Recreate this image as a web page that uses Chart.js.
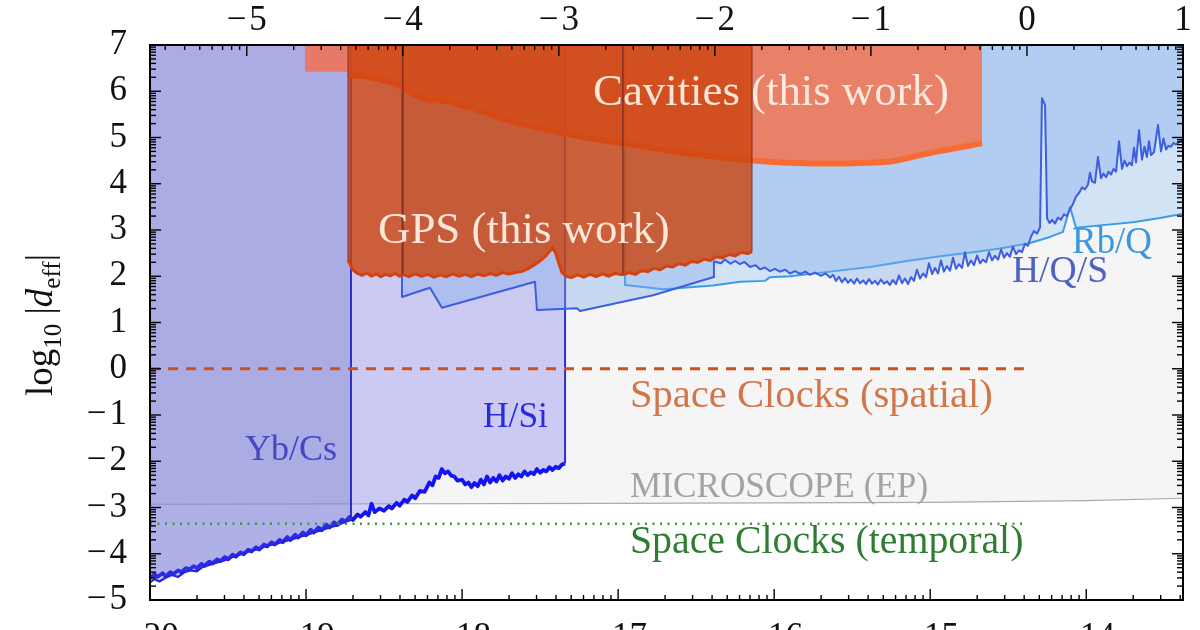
<!DOCTYPE html>
<html>
<head>
<meta charset="utf-8">
<script src="https://cdn.jsdelivr.net/npm/chart.js@4.4.1/dist/chart.umd.min.js"></script>
<style>
    html, body { margin: 0; padding: 0; background: #fff; overflow: hidden; }
    #wrap { width: 1200px; height: 660px; }
</style>
</head>
<body>
<div id="wrap"><canvas id="chart"></canvas></div>
<script>
// bottom axis: log10 of the mass, top axis: log10 of the frequency
const massMin = -20, massMax = -13.38;
const freqMin = -5.62, freqMax = 1.0;
const massTicks = [-20, -19, -18, -17, -16, -15, -14];
const freqTicks = [-5, -4, -3, -2, -1, 0, 1];
const dTicks = [-5, -4, -3, -2, -1, 0, 1, 2, 3, 4, 5, 6, 7];

// [log10 mass, log10 |d_eff|]
const microscope = [[-20, -2.93], [-17, -2.91], [-15, -2.89], [-14, -2.85], [-13.38, -2.8]];

const hsiCurve = [
    [-20.00, -4.52], [-19.97, -4.44], [-19.95, -4.50], [-19.92, -4.42], [-19.90, -4.49], [-19.87, -4.40],
    [-19.85, -4.44], [-19.82, -4.36], [-19.80, -4.40], [-19.77, -4.31], [-19.75, -4.34], [-19.72, -4.27],
    [-19.70, -4.31], [-19.67, -4.22], [-19.65, -4.26], [-19.62, -4.17], [-19.60, -4.21], [-19.57, -4.12],
    [-19.55, -4.16], [-19.52, -4.07], [-19.50, -4.12], [-19.47, -4.02], [-19.45, -4.06], [-19.42, -3.97],
    [-19.40, -4.01], [-19.37, -3.91], [-19.35, -3.95], [-19.32, -3.86], [-19.30, -3.91], [-19.27, -3.80],
    [-19.25, -3.84], [-19.22, -3.75], [-19.20, -3.80], [-19.17, -3.70], [-19.15, -3.75], [-19.12, -3.64],
    [-19.10, -3.70], [-19.07, -3.59], [-19.05, -3.65], [-19.02, -3.54], [-19.00, -3.60], [-18.97, -3.48],
    [-18.95, -3.54], [-18.92, -3.43], [-18.90, -3.49], [-18.87, -3.37], [-18.85, -3.43], [-18.82, -3.32],
    [-18.80, -3.38], [-18.77, -3.26], [-18.75, -3.31], [-18.72, -3.20], [-18.70, -3.27], [-18.67, -3.15],
    [-18.65, -3.20], [-18.62, -3.10], [-18.60, -3.17], [-18.58, -2.92], [-18.56, -3.10], [-18.53, -3.02],
    [-18.50, -3.07], [-18.47, -2.97], [-18.45, -3.02], [-18.42, -2.90], [-18.40, -2.96], [-18.37, -2.83],
    [-18.35, -2.88], [-18.32, -2.74], [-18.30, -2.80], [-18.27, -2.64], [-18.24, -2.66], [-18.21, -2.46],
    [-18.19, -2.52], [-18.17, -2.33], [-18.15, -2.36], [-18.13, -2.17], [-18.11, -2.26], [-18.09, -2.22],
    [-18.07, -2.31], [-18.05, -2.33], [-18.03, -2.42], [-18.00, -2.40], [-17.98, -2.50], [-17.96, -2.46],
    [-17.94, -2.56], [-17.92, -2.47], [-17.90, -2.54], [-17.88, -2.40], [-17.86, -2.50], [-17.84, -2.33],
    [-17.82, -2.46], [-17.80, -2.36], [-17.78, -2.44], [-17.76, -2.30], [-17.74, -2.42], [-17.72, -2.33],
    [-17.70, -2.38], [-17.68, -2.26], [-17.66, -2.36], [-17.64, -2.28], [-17.62, -2.33], [-17.60, -2.22],
    [-17.58, -2.30], [-17.56, -2.24], [-17.54, -2.28], [-17.52, -2.17], [-17.50, -2.25], [-17.48, -2.19],
    [-17.46, -2.22], [-17.44, -2.13], [-17.42, -2.19], [-17.40, -2.12], [-17.38, -2.15], [-17.36, -2.07],
    [-17.34, -2.05], [-17.34, 7]
];

const ybcsCurve = [
    [-20.00, -4.62], [-19.97, -4.55], [-19.94, -4.60], [-19.90, -4.52], [-19.86, -4.46], [-19.82, -4.50],
    [-19.78, -4.40], [-19.74, -4.36], [-19.70, -4.38], [-19.66, -4.28], [-19.62, -4.24], [-19.58, -4.20],
    [-19.54, -4.16], [-19.50, -4.12], [-19.45, -4.04], [-19.40, -4.00], [-19.35, -3.93], [-19.30, -3.90],
    [-19.25, -3.82], [-19.20, -3.80], [-19.15, -3.74], [-19.10, -3.70], [-19.05, -3.64], [-19.00, -3.60],
    [-18.95, -3.54], [-18.90, -3.49], [-18.85, -3.43], [-18.80, -3.39], [-18.75, -3.31], [-18.712, -3.27],
    [-18.712, 7]
];

const rbqCurve = [
    [-16.956, 7], [-16.956, 1.81], [-16.796, 1.75], [-16.712, 1.72], [-16.539, 1.76], [-16.392, 1.80],
    [-16.219, 1.88], [-16.059, 1.90], [-16.027, 1.98], [-15.898, 2.00], [-15.642, 2.10], [-15.386, 2.20],
    [-15.149, 2.33], [-14.937, 2.43], [-14.726, 2.52], [-14.553, 2.60], [-14.360, 2.72], [-14.232, 2.85],
    [-14.149, 2.96], [-14.104, 3.50], [-14.066, 3.05], [-13.912, 3.10], [-13.700, 3.17], [-13.527, 3.26],
    [-13.380, 3.35]
];

const hqsCurve = [
    [-18.385, 7], [-18.385, 1.55], [-18.206, 1.75], [-18.129, 1.32], [-17.533, 1.88], [-17.520, 1.27],
    [-17.264, 1.31], [-17.244, 1.25], [-16.776, 1.59], [-16.392, 1.98], [-16.386, 2.32], [-16.340, 2.28],
    [-16.315, 2.36], [-16.280, 2.27], [-16.250, 2.33], [-16.219, 2.26], [-16.190, 2.31], [-16.155, 2.20],
    [-16.120, 2.24], [-16.091, 2.15], [-16.060, 2.19], [-16.027, 2.11], [-15.995, 2.16], [-15.963, 2.10],
    [-15.930, 2.14], [-15.898, 2.06], [-15.866, 2.11], [-15.834, 2.05], [-15.800, 2.10], [-15.770, 2.03],
    [-15.738, 2.08], [-15.700, 2.01], [-15.670, 2.06], [-15.642, 1.97], [-15.622, 2.03], [-15.604, 1.90],
    [-15.585, 1.99], [-15.565, 1.87], [-15.546, 1.96], [-15.527, 1.86], [-15.508, 1.93], [-15.488, 1.84],
    [-15.470, 1.95], [-15.450, 1.85], [-15.430, 1.91], [-15.411, 1.83], [-15.392, 1.94], [-15.373, 1.84],
    [-15.354, 1.90], [-15.335, 1.82], [-15.316, 1.93], [-15.296, 1.84], [-15.277, 1.89], [-15.258, 1.81],
    [-15.240, 1.92], [-15.219, 1.83], [-15.200, 2.02], [-15.181, 1.85], [-15.162, 1.95], [-15.142, 1.83],
    [-15.123, 1.98], [-15.104, 1.90], [-15.085, 2.14], [-15.065, 1.95], [-15.046, 2.06], [-15.027, 1.98],
    [-15.008, 2.28], [-14.988, 2.05], [-14.969, 2.18], [-14.950, 2.06], [-14.931, 2.34], [-14.912, 2.10],
    [-14.893, 2.22], [-14.873, 2.12], [-14.854, 2.40], [-14.835, 2.16], [-14.816, 2.26], [-14.796, 2.18],
    [-14.777, 2.52], [-14.758, 2.22], [-14.739, 2.34], [-14.719, 2.24], [-14.700, 2.45], [-14.681, 2.28],
    [-14.662, 2.36], [-14.642, 2.30], [-14.623, 2.52], [-14.604, 2.34], [-14.585, 2.44], [-14.565, 2.36],
    [-14.546, 2.58], [-14.527, 2.40], [-14.508, 2.50], [-14.489, 2.42], [-14.470, 2.64], [-14.450, 2.48],
    [-14.431, 2.56], [-14.412, 2.52], [-14.393, 2.70], [-14.373, 2.66], [-14.354, 2.86], [-14.335, 2.98],
    [-14.315, 2.92], [-14.296, 3.06], [-14.284, 5.85], [-14.264, 5.70], [-14.251, 3.25], [-14.235, 3.15],
    [-14.219, 3.22], [-14.200, 3.14], [-14.181, 3.27], [-14.162, 3.22], [-14.143, 3.34], [-14.124, 3.30],
    [-14.104, 3.45], [-14.085, 3.56], [-14.066, 3.72], [-14.046, 3.80], [-14.027, 3.92], [-14.008, 3.88],
    [-13.989, 3.98], [-13.976, 4.24], [-13.963, 4.05], [-13.944, 4.02], [-13.925, 4.58], [-13.906, 4.12],
    [-13.890, 4.22], [-13.873, 4.14], [-13.857, 4.26], [-13.841, 4.20], [-13.825, 4.32], [-13.809, 4.26],
    [-13.790, 4.92], [-13.771, 4.32], [-13.755, 4.50], [-13.739, 4.38], [-13.723, 4.46], [-13.707, 4.40],
    [-13.694, 4.78], [-13.681, 4.46], [-13.662, 5.16], [-13.643, 4.52], [-13.627, 4.80], [-13.611, 4.58],
    [-13.598, 4.92], [-13.585, 4.62], [-13.566, 4.68], [-13.540, 5.27], [-13.521, 4.70], [-13.505, 4.98],
    [-13.489, 4.74], [-13.473, 4.82], [-13.457, 4.80], [-13.441, 4.88], [-13.425, 4.85], [-13.400, 4.92],
    [-13.380, 4.95]
];

const cavities = [
    [-19.007, 7], [-19.007, 6.42], [-18.731, 6.42], [-18.731, 6.36], [-18.68, 6.33], [-18.63, 6.34],
    [-18.59, 6.30], [-18.54, 6.27], [-18.49, 6.22], [-18.44, 6.18], [-18.40, 6.12], [-18.37, 6.06],
    [-18.33, 5.98], [-18.29, 5.90], [-18.25, 5.84], [-18.21, 5.80], [-18.17, 5.82], [-18.13, 5.78],
    [-18.09, 5.80], [-18.05, 5.75], [-18.01, 5.70], [-17.97, 5.67], [-17.93, 5.64], [-17.89, 5.58],
    [-17.85, 5.55], [-17.81, 5.50], [-17.77, 5.45], [-17.73, 5.40], [-17.69, 5.36], [-17.65, 5.32],
    [-17.61, 5.28], [-17.57, 5.26], [-17.53, 5.22], [-17.49, 5.20], [-17.45, 5.16], [-17.41, 5.15],
    [-17.37, 5.10], [-17.33, 5.09], [-17.29, 5.05], [-17.25, 5.03], [-17.21, 5.00], [-17.17, 4.98],
    [-17.12, 4.95], [-17.07, 4.93], [-17.02, 4.90], [-16.97, 4.87], [-16.90, 4.84], [-16.83, 4.80],
    [-16.76, 4.76], [-16.69, 4.73], [-16.62, 4.69], [-16.55, 4.66], [-16.48, 4.63], [-16.41, 4.60],
    [-16.34, 4.57], [-16.27, 4.55], [-16.20, 4.52], [-16.13, 4.50], [-16.05, 4.48], [-15.95, 4.46],
    [-15.85, 4.45], [-15.75, 4.44], [-15.65, 4.44], [-15.55, 4.44], [-15.45, 4.45], [-15.35, 4.46],
    [-15.25, 4.48], [-15.15, 4.55], [-15.05, 4.63], [-14.95, 4.70], [-14.85, 4.76], [-14.75, 4.82],
    [-14.668, 4.88], [-14.668, 7]
];

const gpsLow = [
    [-18.731, 7], [-18.731, 2.35], [-18.70, 2.14], [-18.67, 2.06], [-18.64, 2.02], [-18.61, 2.07],
    [-18.58, 2.00], [-18.55, 2.05], [-18.52, 1.99], [-18.49, 2.04], [-18.46, 2.01], [-18.43, 2.06],
    [-18.40, 2.00], [-18.379, 2.04], [-18.379, 7]
];

const gpsMid = [
    [-18.379, 7], [-18.379, 2.04], [-18.34, 1.99], [-18.30, 2.05], [-18.26, 2.00], [-18.22, 2.04],
    [-18.18, 1.98], [-18.14, 2.03], [-18.10, 1.99], [-18.06, 2.05], [-18.02, 2.00], [-17.98, 2.04],
    [-17.94, 1.99], [-17.90, 2.05], [-17.86, 2.01], [-17.82, 2.06], [-17.78, 2.02], [-17.74, 2.08],
    [-17.70, 2.05], [-17.66, 2.08], [-17.62, 2.10], [-17.58, 2.16], [-17.54, 2.24], [-17.50, 2.33],
    [-17.46, 2.45], [-17.42, 2.62], [-17.40, 2.50], [-17.38, 2.28], [-17.36, 2.08], [-17.33, 2.00],
    [-17.30, 1.97], [-17.26, 2.03], [-17.22, 1.98], [-17.18, 2.04], [-17.14, 1.99], [-17.10, 2.05],
    [-17.06, 2.00], [-17.02, 2.06], [-16.969, 2.03], [-16.969, 7]
];

const gpsHigh = [
    [-16.969, 7], [-16.969, 2.03], [-16.93, 2.08], [-16.89, 2.04], [-16.85, 2.12], [-16.81, 2.10],
    [-16.77, 2.17], [-16.73, 2.14], [-16.69, 2.22], [-16.65, 2.20], [-16.61, 2.27], [-16.57, 2.24],
    [-16.53, 2.32], [-16.49, 2.30], [-16.45, 2.37], [-16.41, 2.34], [-16.37, 2.42], [-16.33, 2.40],
    [-16.29, 2.47], [-16.25, 2.44], [-16.21, 2.52], [-16.17, 2.49], [-16.142, 2.53], [-16.142, 7]
];

const spatialClocks = [[-20, 0], [-14.4, 0]];
const temporalClocks = [[-20, -3.35], [-14.4, -3.35]];

const notes = [
    { text: "Cavities (this work)", x: -17.161, y: 5.703, color: "rgba(255,238,226,0.95)", width: 356 },
    { text: "GPS (this work)", x: -18.539, y: 2.719, color: "rgba(255,238,226,0.95)", width: 292 },
    { text: "Yb/Cs", x: -19.391, y: -1.973, color: "#4646c4", width: 92 },
    { text: "H/Si", x: -17.866, y: -1.259, color: "#2a2ae0", width: 65 },
    { text: "Rb/Q", x: -14.091, y: 2.503, color: "#3b98e0", width: 80 },
    { text: "H/Q/S", x: -14.476, y: 1.876, color: "#4d62c4", width: 96 },
    { text: "Space Clocks (spatial)", x: -16.924, y: -0.827, color: "#d0764a", width: 363 },
    { text: "MICROSCOPE (EP)", x: -16.924, y: -2.773, color: "#a3a3a3", width: 298 },
    { text: "Space Clocks (temporal)", x: -16.924, y: -3.984, color: "#2e7d32", width: 393 }
];

const SERIF = '"Liberation Serif", "DejaVu Serif", serif';

function toPoints(list) {
    return list.map((p) => ({ x: p[0], y: p[1] }));
}

function formatTick(v) {
    return (v < 0 ? "\u2212\u200a" : "") + Math.abs(v);
}

function minorPositions(lo, hi) {
    const out = [];
    for (let n = Math.floor(lo); n < hi; n++) {
        for (let k = 2; k <= 9; k++) {
            const v = n + Math.log10(k);
            if (v > lo && v < hi) out.push(v);
        }
    }
    return out;
}

const isVertical = (c) => c.p0.parsed.x === c.p1.parsed.x;

// first entry is drawn first (at the bottom)
const layers = [
    {
        data: toPoints(microscope),
        fill: "end",
        backgroundColor: "#f5f5f5",
        borderColor: "rgba(150,150,150,0.8)",
        borderWidth: 1.2
    },
    {
        data: toPoints(hsiCurve),
        fill: "end",
        backgroundColor: "rgba(150,150,240,0.45)",
        borderColor: "#1414f2",
        borderWidth: 3.8,
        segment: {
            borderColor: (c) => (isVertical(c) ? "#2f2fc8" : undefined),
            borderWidth: (c) => (isVertical(c) ? 2 : undefined)
        }
    },
    {
        data: toPoints(ybcsCurve),
        fill: "end",
        backgroundColor: "rgba(102,102,199,0.3)",
        borderColor: "#2424e6",
        borderWidth: 2.2,
        segment: {
            borderColor: (c) => (isVertical(c) ? "#2f2fc8" : undefined),
            borderWidth: (c) => (isVertical(c) ? 2 : undefined)
        }
    },
    {
        data: toPoints(rbqCurve),
        fill: "end",
        backgroundColor: "#d3e3f6",
        borderColor: "#3a9ce8",
        borderWidth: 2
    },
    {
        data: toPoints(hqsCurve),
        fill: "end",
        backgroundColor: "rgba(131,172,234,0.4)",
        borderColor: "#3d5ee0",
        borderWidth: 2
    },
    {
        data: toPoints(cavities),
        fill: "end",
        backgroundColor: "rgba(245,110,70,0.8)",
        borderColor: "#f86c34",
        borderWidth: 6,
        segment: {
            borderColor: (c) => (isVertical(c) || c.p0.parsed.x < -18.74 ? "rgba(0,0,0,0)" : undefined)
        }
    }
];

[gpsLow, gpsMid, gpsHigh].forEach((part) => {
    layers.push({
        data: toPoints(part),
        fill: "end",
        backgroundColor: "rgba(204,66,12,0.8)",
        borderColor: "#d4420f",
        borderWidth: 3,
        segment: {
            borderColor: (c) => (isVertical(c) ? "rgba(120,40,35,0.7)" : undefined),
            borderWidth: (c) => (isVertical(c) ? 1.3 : undefined)
        }
    });
});

layers.push({
    data: toPoints(spatialClocks),
    borderColor: "#c8531e",
    borderWidth: 3,
    borderDash: [10, 8]
});

layers.push({
    data: toPoints(temporalClocks),
    borderColor: "#3c9a3c",
    borderWidth: 2.5,
    borderDash: [2, 5.5]
});

const datasets = layers.map((d, i) =>
    Object.assign(
        {
            fill: false,
            pointRadius: 0,
            tension: 0,
            clip: 0,
            borderJoinStyle: "round",
            xAxisID: "x",
            yAxisID: "y",
            order: layers.length - i
        },
        d
    )
);

const tickFont = { family: SERIF, size: 35 };

const framePlugin = {
    id: "frame",
    afterDatasetsDraw(chart) {
        const { ctx, chartArea: a, scales } = chart;

        // text notes inside the plot
        ctx.save();
        ctx.textAlign = "left";
        ctx.textBaseline = "alphabetic";
        notes.forEach((n) => {
            ctx.font = "36px " + SERIF;
            const w = ctx.measureText(n.text).width;
            const size = (36 * n.width) / w;
            ctx.font = size.toFixed(1) + "px " + SERIF;
            ctx.fillStyle = n.color;
            ctx.fillText(n.text, scales.x.getPixelForValue(n.x), scales.y.getPixelForValue(n.y));
        });
        ctx.restore();

        // inward ticks and the frame
        ctx.save();
        ctx.strokeStyle = "#000";
        ctx.lineWidth = 1.4;
        const line = (x1, y1, x2, y2) => {
            ctx.beginPath();
            ctx.moveTo(x1, y1);
            ctx.lineTo(x2, y2);
            ctx.stroke();
        };

        massTicks.forEach((v) => {
            const px = scales.x.getPixelForValue(v);
            line(px, a.bottom, px, a.bottom - 11);
        });
        minorPositions(massMin, massMax).forEach((v) => {
            const px = scales.x.getPixelForValue(v);
            line(px, a.bottom, px, a.bottom - 5);
        });

        freqTicks.forEach((v) => {
            const px = scales.xTop.getPixelForValue(v);
            line(px, a.top, px, a.top + 11);
        });
        minorPositions(freqMin, freqMax).forEach((v) => {
            const px = scales.xTop.getPixelForValue(v);
            line(px, a.top, px, a.top + 5);
        });

        dTicks.forEach((v) => {
            const py = scales.y.getPixelForValue(v);
            line(a.left, py, a.left + 11, py);
            line(a.right, py, a.right - 11, py);
        });
        minorPositions(-5, 7).forEach((v) => {
            const py = scales.y.getPixelForValue(v);
            line(a.left, py, a.left + 6, py);
            line(a.right, py, a.right - 6, py);
        });

        ctx.lineWidth = 2;
        ctx.strokeRect(a.left, a.top, a.right - a.left, a.bottom - a.top);
        ctx.restore();
    },
    afterDraw(chart) {
        // y axis title: log10 |d_eff|
        const { ctx } = chart;
        const pieces = [
            { t: "log", font: "37px " + SERIF, dy: 0 },
            { t: "10", font: "25px " + SERIF, dy: 9 },
            { t: " |", font: "37px " + SERIF, dy: 0 },
            { t: "d", font: "italic 37px " + SERIF, dy: 0 },
            { t: "eff", font: "25px " + SERIF, dy: 8 },
            { t: "|", font: "37px " + SERIF, dy: 0 }
        ];
        ctx.save();
        let total = 0;
        pieces.forEach((p) => {
            ctx.font = p.font;
            p.w = ctx.measureText(p.t).width;
            total += p.w;
        });
        ctx.translate(52, 325);
        ctx.rotate(-Math.PI / 2);
        ctx.fillStyle = "#111";
        ctx.textBaseline = "alphabetic";
        let x = -total / 2;
        pieces.forEach((p) => {
            ctx.font = p.font;
            ctx.fillText(p.t, x, p.dy);
            x += p.w;
        });
        ctx.restore();
    }
};

new Chart(document.getElementById("chart").getContext("2d"), {
    type: "line",
    data: { datasets: datasets },
    options: {
        responsive: true,
        maintainAspectRatio: false,
        animation: false,
        layout: { padding: { left: 0, right: 17, top: 0, bottom: 0 } },
        plugins: {
            legend: { display: false },
            tooltip: { enabled: false }
        },
        scales: {
            x: {
                type: "linear",
                position: "bottom",
                min: massMin,
                max: massMax,
                grid: { display: false, drawTicks: false },
                border: { display: false },
                ticks: { font: tickFont, color: "#111", padding: 17, maxRotation: 0, callback: formatTick },
                afterBuildTicks: (s) => {
                    s.ticks = massTicks.map((v) => ({ value: v }));
                },
                afterFit: (s) => {
                    s.height = 60;
                }
            },
            xTop: {
                type: "linear",
                position: "top",
                min: freqMin,
                max: freqMax,
                grid: { display: false, drawTicks: false },
                border: { display: false },
                ticks: { font: tickFont, color: "#111", padding: 3, maxRotation: 0, callback: formatTick },
                afterBuildTicks: (s) => {
                    s.ticks = freqTicks.map((v) => ({ value: v }));
                },
                afterFit: (s) => {
                    s.height = 45;
                }
            },
            y: {
                type: "linear",
                position: "left",
                min: -5,
                max: 7,
                grid: { display: false, drawTicks: false },
                border: { display: false },
                ticks: { font: tickFont, color: "#111", padding: 23, callback: formatTick },
                afterBuildTicks: (s) => {
                    s.ticks = dTicks.map((v) => ({ value: v }));
                },
                afterFit: (s) => {
                    s.width = 150;
                }
            }
        }
    },
    plugins: [framePlugin]
});
</script>
</body>
</html>
